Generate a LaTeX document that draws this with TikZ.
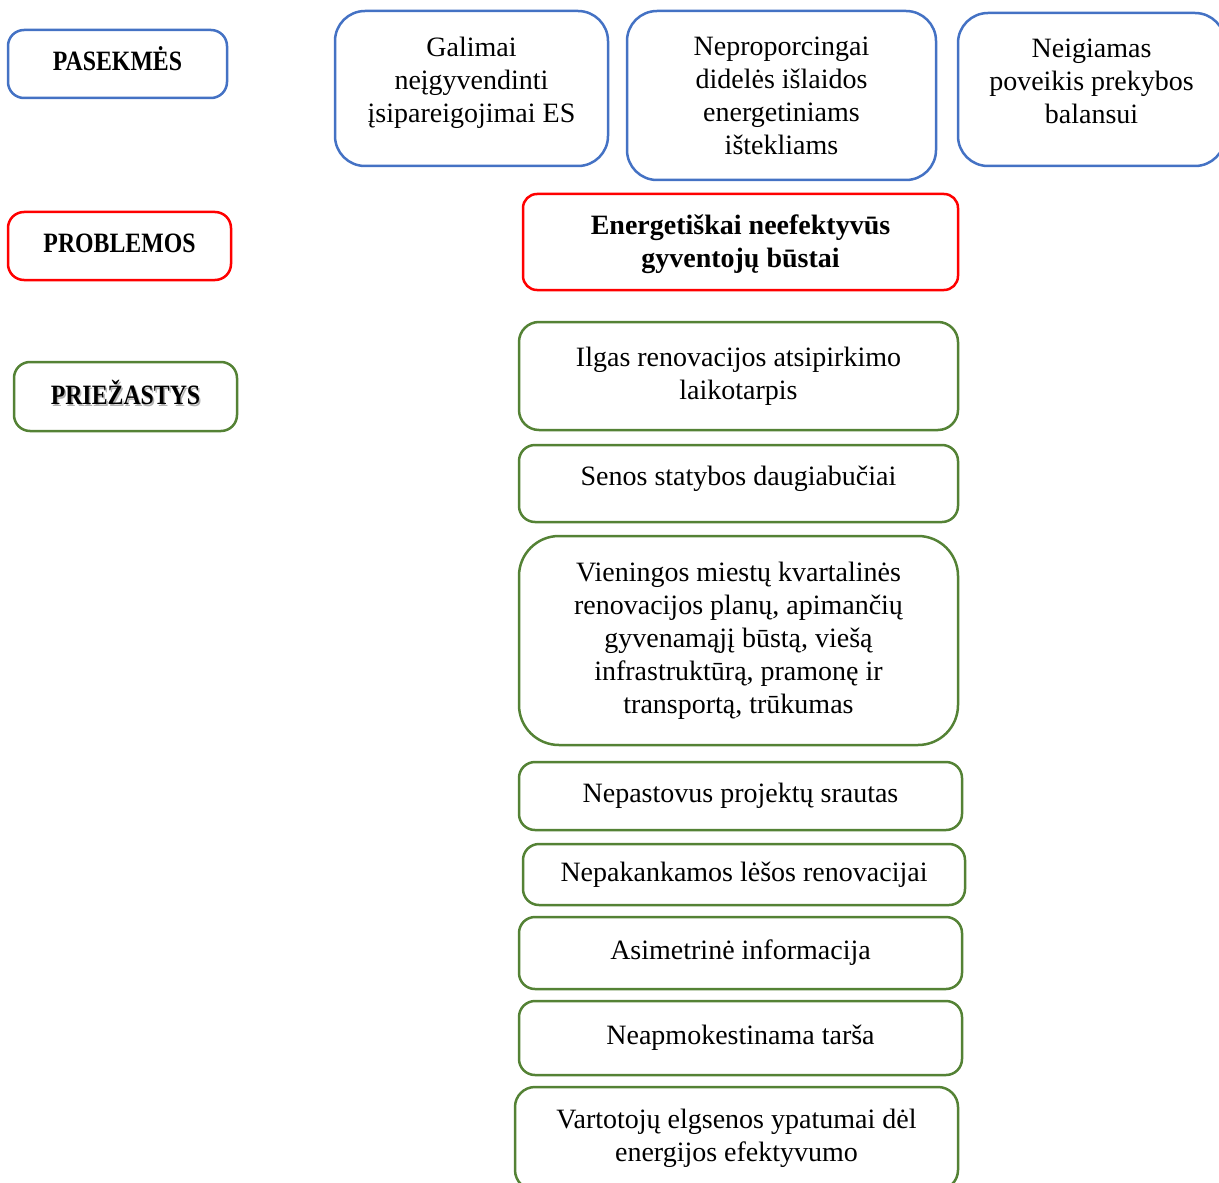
\documentclass[tikz,border=0pt]{standalone}
\usepackage{fontspec}
\setmainfont{Liberation Serif}
\newfontfamily\headfont[FakeStretch=0.85]{Liberation Serif}
\definecolor{boxblue}{HTML}{4472C4}
\definecolor{boxred}{HTML}{FF0000}
\definecolor{boxgreen}{HTML}{548235}
\tikzset{bsize/.style 2 args={minimum width=#1*0.5pt, minimum height=#2*0.5pt}}

\begin{document}
\begin{tikzpicture}[x=0.5pt, y=-0.5pt,
    box/.style={draw, line width=1.25pt, rounded corners=8pt, align=center, inner sep=0pt,
        font=\fontsize{14}{16.5}\selectfont},
    head/.style={box, font=\headfont\fontsize{14}{16}\selectfont\bfseries}]

    \useasboundingbox (0, 0) rectangle (1219, 1182);
    \clip (0, 0) rectangle (1219, 1182);

    % antraštės kairėje
    \node[head, draw=boxblue, bsize={219}{68}, text depth=5pt] (pasekmes) at (117.5, 64) {PASEKMĖS};
    \node[head, draw=boxred, bsize={223}{68}, text depth=3pt] (problemos) at (119.5, 246) {PROBLEMOS};
    \node[font=\headfont\fontsize{14}{16}\selectfont\bfseries, text=black!30, inner sep=0pt, text depth=4pt]
        (priezSesel) at (127, 398) {PRIEŽASTYS};
    \node[head, draw=boxgreen, bsize={223}{69}, text depth=4pt] (priezastys) at (125.5, 396.5) {PRIEŽASTYS};

    % pasekmės
    \node[box, draw=boxblue, rounded corners=15pt, bsize={273}{155}, text depth=9pt] (galimai) at (471.5, 88.5)
        {Galimai\\neįgyvendinti\\įsipareigojimai ES};
    \node[box, draw=boxblue, rounded corners=15pt, bsize={309}{169}] (islaidos) at (781.5, 95.5)
        {Neproporcingai\\didelės išlaidos\\energetiniams\\ištekliams};
    \node[box, draw=boxblue, rounded corners=15pt, bsize={267}{153}, text depth=8pt] (balansas) at (1091.5, 89.5)
        {Neigiamas\\poveikis prekybos\\balansui};

    % problema
    \node[box, draw=boxred, rounded corners=7pt, bsize={435}{96}, text height=29pt,
        font=\fontsize{14}{16.5}\selectfont\bfseries]
        (bustai) at (740.5, 242) {Energetiškai neefektyvūs\\gyventojų būstai};

    % priežastys
    \node[box, draw=boxgreen, rounded corners=10pt, bsize={439}{108}] (atsipirk) at (738.5, 376)
        {Ilgas renovacijos atsipirkimo\\laikotarpis};
    \node[box, draw=boxgreen, bsize={439}{77}, text depth=8pt] (senos) at (738.5, 483.5)
        {Senos statybos daugiabučiai};
    \node[box, draw=boxgreen, rounded corners=20pt, bsize={439}{209}] (planai) at (738.5, 640.5)
        {Vieningos miestų kvartalinės\\renovacijos planų, apimančių\\gyvenamąjį būstą, viešą\\infrastruktūrą, pramonę ir\\transportą, trūkumas};
    \node[box, draw=boxgreen, bsize={443}{68}] (srautas) at (740.5, 796)
        {Nepastovus projektų srautas};
    \node[box, draw=boxgreen, bsize={442}{61}] (lesos) at (744, 874.5)
        {Nepakankamos lėšos renovacijai};
    \node[box, draw=boxgreen, bsize={443}{72}] (info) at (740.5, 953)
        {Asimetrinė informacija};
    \node[box, draw=boxgreen, bsize={443}{74}] (tarsa) at (740.5, 1038)
        {Neapmokestinama tarša};
    \node[box, draw=boxgreen, rounded corners=10pt, bsize={443}{103}] (elgsena) at (736.5, 1138.5)
        {Vartotojų elgsenos ypatumai dėl\\energijos efektyvumo};

\end{tikzpicture}
\end{document}
